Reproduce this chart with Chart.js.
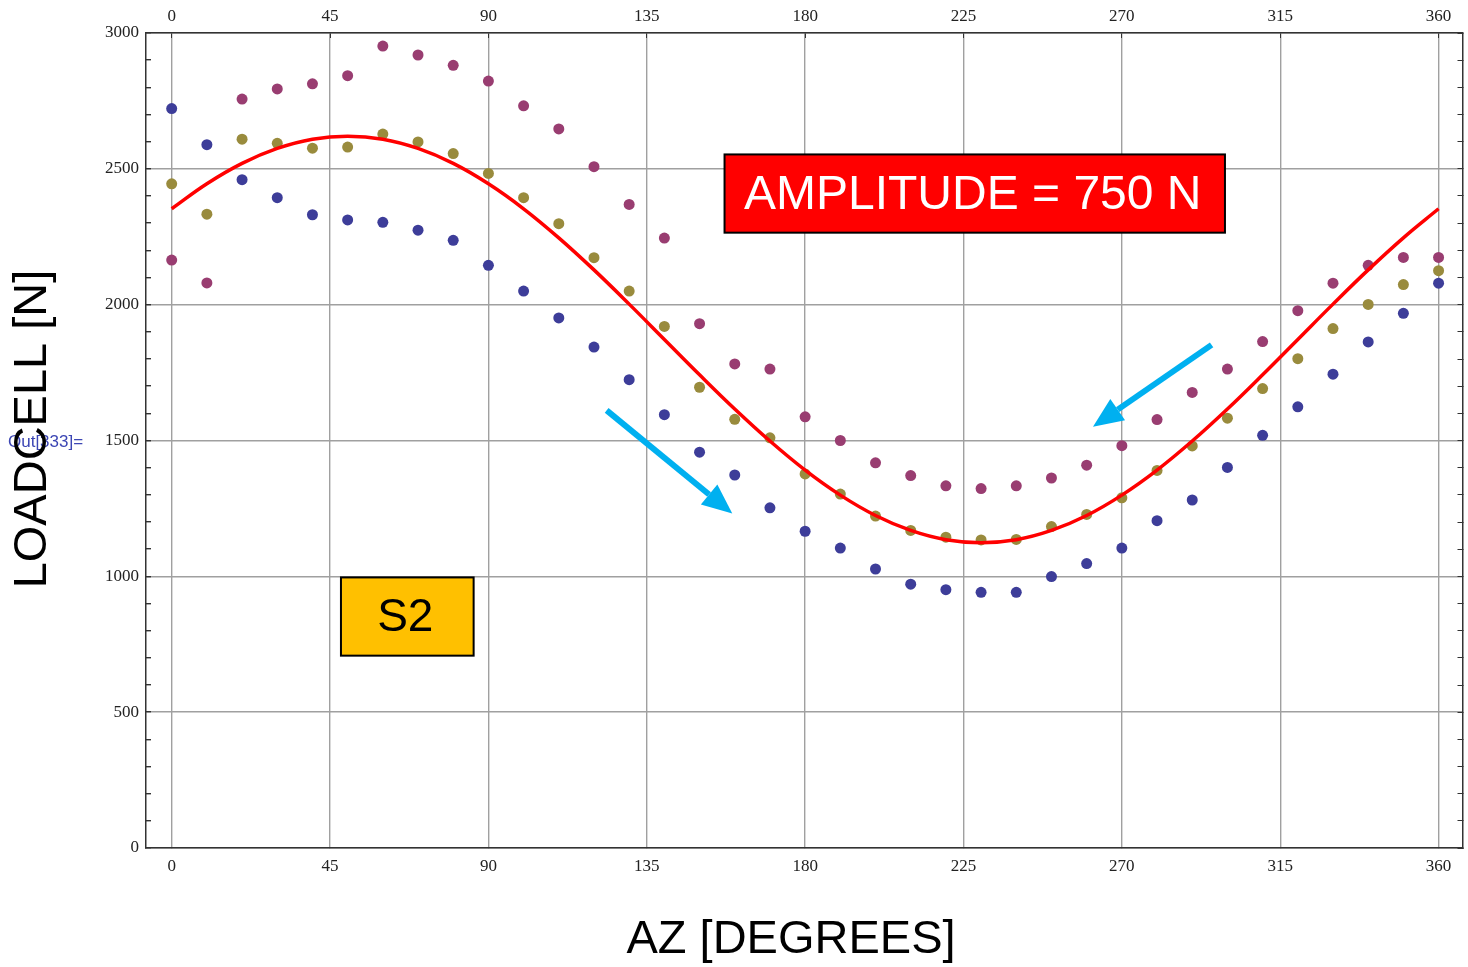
<!DOCTYPE html>
<html><head><meta charset="utf-8">
<script src="https://cdn.jsdelivr.net/npm/chart.js@4.4.0/dist/chart.umd.min.js"></script>
<style>html,body{margin:0;padding:0;background:#fff;overflow:hidden}</style>
</head><body>
<canvas id="c" width="1468" height="967" style="display:block;width:1468px;height:967px"></canvas>
<script>
// ---- data ----
const azDegrees = [0,10,20,30,40,50,60,70,80,90,100,110,120,130,140,150,160,170,180,190,200,210,220,230,240,250,260,270,280,290,300,310,320,330,340,350,360];
const blueLoad = [2722,2589,2460,2394,2331,2312,2303,2274,2237,2145,2050,1951,1844,1724,1595,1457,1373,1252,1166,1104,1027,971,951,941,941,999,1047,1104,1205,1281,1401,1519,1624,1744,1863,1968,2079];
const magentaLoad = [2164,2080,2757,2794,2813,2843,2952,2919,2881,2823,2732,2647,2508,2369,2245,1930,1782,1763,1587,1500,1418,1371,1333,1323,1333,1362,1409,1481,1577,1677,1763,1864,1978,2079,2145,2174,2174];
const oliveLoad = [2445,2333,2609,2594,2576,2580,2628,2599,2556,2483,2394,2298,2173,2050,1920,1696,1578,1510,1377,1303,1222,1169,1144,1134,1136,1183,1228,1289,1390,1480,1582,1691,1801,1912,2001,2074,2125];
const fitLoad = [2353,2445,2520,2575,2609,2620,2609,2575,2520,2445,2353,2246,2128,2002,1872,1742,1616,1498,1391,1299,1224,1169,1135,1124,1135,1169,1224,1299,1391,1498,1616,1742,1872,2002,2128,2246,2353];
const xTickLabels = [0,45,90,135,180,225,270,315,360];
const yTickLabels = [0,500,1000,1500,2000,2500,3000];

// ---- annotations (data coordinates) ----
const ampText = 'AMPLITUDE = 750 N';
const ampBox = {x0:157.1, x1:299.3, y0:2553, y1:2265};
const s2Text = 'S2';
const s2Box = {x0:48.1, x1:85.8, y0:996, y1:708};
const arrows = [
  {from:[123.6,1611], to:[159.3,1231]},
  {from:[295.5,1852], to:[261.8,1551]}
];

const pts = (ys) => azDegrees.map((d,i)=>({x:d, y:ys[i]}));

const W = 1468, H = 967;
const PLOT = {left:146, right:1466, top:33, bottom:848};

const annot = {
  id:'annot',
  beforeDraw(chart){
    const ctx = chart.ctx;
    ctx.save();
    ctx.fillStyle = '#3c46b4';
    ctx.font = '17px "Liberation Sans", Arial, sans-serif';
    ctx.textBaseline = 'middle';
    ctx.textAlign = 'left';
    ctx.fillText('Out[333]=', 8, 442);
    ctx.restore();
  },
  afterDatasetsDraw(chart){
    const ctx = chart.ctx, xs = chart.scales.x, ys = chart.scales.y;
    const px = v => xs.getPixelForValue(v), py = v => ys.getPixelForValue(v);
    ctx.save();
    ctx.strokeStyle = '#00b0f0'; ctx.fillStyle = '#00b0f0';
    ctx.lineWidth = 6; ctx.lineCap = 'butt';
    arrows.forEach(a=>{
      const x0=px(a.from[0]), y0=py(a.from[1]), x1=px(a.to[0]), y1=py(a.to[1]);
      const ang = Math.atan2(y1-y0, x1-x0);
      const hl = 30, hw = 13;
      const bx = x1 - hl*Math.cos(ang), by = y1 - hl*Math.sin(ang);
      ctx.beginPath(); ctx.moveTo(x0,y0); ctx.lineTo(bx,by); ctx.stroke();
      ctx.beginPath();
      ctx.moveTo(x1,y1);
      ctx.lineTo(bx + hw*Math.sin(ang), by - hw*Math.cos(ang));
      ctx.lineTo(bx - hw*Math.sin(ang), by + hw*Math.cos(ang));
      ctx.closePath(); ctx.fill();
    });
    const drawBox = (b, fill, text, color, font) => {
      const x0=px(b.x0), x1=px(b.x1), y0=py(b.y0), y1=py(b.y1);
      ctx.fillStyle = fill; ctx.fillRect(x0,y0,x1-x0,y1-y0);
      ctx.strokeStyle = '#000'; ctx.lineWidth = 2; ctx.strokeRect(x0,y0,x1-x0,y1-y0);
      ctx.fillStyle = color; ctx.font = font; ctx.textAlign='center'; ctx.textBaseline='middle';
      ctx.fillText(text, (x0+x1)/2 - 2, (y0+y1)/2 + 2);
    };
    drawBox(ampBox, '#ff0000', ampText, '#ffffff', '48px "Liberation Sans", Arial, sans-serif');
    drawBox(s2Box, '#ffc000', s2Text, '#000000', '46px "Liberation Sans", Arial, sans-serif');
    ctx.restore();
  },
  afterDraw(chart){
    const ctx = chart.ctx;
    ctx.save();
    ctx.fillStyle = '#000';
    ctx.font = '47px "Liberation Sans", Arial, sans-serif';
    ctx.textAlign='center'; ctx.textBaseline='middle';
    ctx.fillText('AZ [DEGREES]', 791, 940);
    ctx.translate(33, 429); ctx.rotate(-Math.PI/2);
    ctx.fillText('LOADCELL [N]', 0, 0);
    ctx.restore();
  }
};

const tickFont = {family:'"Liberation Serif", "Times New Roman", serif', size:17};
const gridGray = '#a0a0a0';
const axisDark = '#333333';

const xCommon = {
  type:'linear', min:-7.3, max:366.8,
  afterBuildTicks: s => { s.ticks = xTickLabels.map(v=>({value:v})); },
  ticks:{font:tickFont, color:'#222', maxRotation:0, autoSkip:false},
  border:{display:true, color:axisDark, width:1.5}
};
const yMinor = [];
for (let v = yTickLabels[0]; v <= yTickLabels[yTickLabels.length-1]; v += 100) yMinor.push(v);
const yCommon = {
  type:'linear', min:0, max:3000,
  afterBuildTicks: s => { s.ticks = yMinor.map(v=>({value:v})); },
  ticks:{font:tickFont, color:'#222', autoSkip:false,
    callback: v => yTickLabels.includes(v) ? String(v) : ''},
  border:{display:true, color:axisDark, width:1.5}
};

new Chart(document.getElementById('c'), {
  type:'scatter',
  data:{datasets:[
    {label:'fit', data:pts(fitLoad), showLine:true, borderColor:'#ff0000', borderWidth:3.5,
     pointRadius:0, tension:0.4, fill:false},
    {label:'S2 a', data:pts(magentaLoad), backgroundColor:'rgb(153,61,113)', borderWidth:0, pointRadius:5.5},
    {label:'S2 b', data:pts(oliveLoad), backgroundColor:'rgb(153,139,61)', borderWidth:0, pointRadius:5.5},
    {label:'S2 c', data:pts(blueLoad), backgroundColor:'rgb(61,61,153)', borderWidth:0, pointRadius:5.5}
  ]},
  options:{
    responsive:false, animation:false, devicePixelRatio:1,
    layout:{padding:0},
    plugins:{legend:{display:false}, tooltip:{enabled:false}, title:{display:false}},
    scales:{
      x:Object.assign({}, xCommon, {position:'bottom',
        grid:{color:gridGray, lineWidth:1.4, drawTicks:true, tickLength:0},
        ticks:Object.assign({}, xCommon.ticks, {padding:8}),
        afterFit: s => { s.height = H - PLOT.bottom; }}),
      x2:Object.assign({}, xCommon, {position:'top',
        grid:{drawOnChartArea:false, drawTicks:true, tickLength:-5, tickColor:axisDark},
        ticks:Object.assign({}, xCommon.ticks, {padding:11}),
        afterFit: s => { s.height = PLOT.top; }}),
      y:Object.assign({}, yCommon, {position:'left',
        grid:{color: c => (c.tick && yTickLabels.includes(c.tick.value)) ? gridGray : 'rgba(0,0,0,0)',
              lineWidth:1.4, drawTicks:true, tickLength:-5, tickColor:axisDark},
        ticks:Object.assign({}, yCommon.ticks, {padding:12}),
        afterFit: s => { s.width = PLOT.left; }}),
      y2:Object.assign({}, yCommon, {position:'right',
        grid:{drawOnChartArea:false, drawTicks:true, tickLength:-5, tickColor:axisDark},
        ticks:Object.assign({}, yCommon.ticks, {display:false}),
        afterFit: s => { s.width = W - PLOT.right; }})
    }
  },
  plugins:[annot]
});
</script>
</body></html>
